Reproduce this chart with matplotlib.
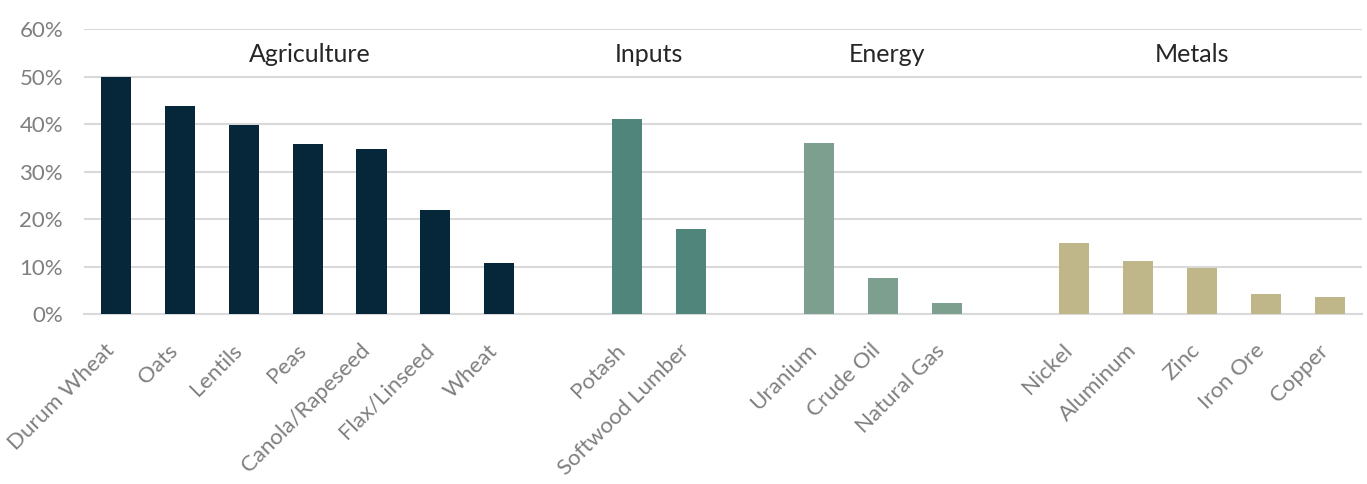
import matplotlib
matplotlib.use("Agg")
import matplotlib.pyplot as plt
from matplotlib.ticker import FuncFormatter
from matplotlib.transforms import offset_copy

# Data
categories = ["Durum Wheat", "Oats", "Lentils", "Peas", "Canola/Rapeseed", "Flax/Linseed", "Wheat",
              "Potash", "Softwood Lumber",
              "Uranium", "Crude Oil", "Natural Gas",
              "Nickel", "Aluminum", "Zinc", "Iron Ore", "Copper"]
values = [50.0, 43.9, 39.9, 35.9, 34.9, 21.9, 10.9,
          41.1, 18.0,
          36.0, 7.7, 2.4,
          15.0, 11.3, 9.8, 4.3, 3.7]
groups = ["Agriculture"] * 7 + ["Inputs"] * 2 + ["Energy"] * 3 + ["Metals"] * 5
group_names = ["Agriculture", "Inputs", "Energy", "Metals"]
group_colors = {"Agriculture": "#06263A", "Inputs": "#4F857B",
                "Energy": "#7C9F90", "Metals": "#BFB68A"}

# positions: one empty slot between groups
positions = []
pos = 0
prev = groups[0]
for g in groups:
    if g != prev:
        pos += 1
        prev = g
    positions.append(pos)
    pos += 1

label_pos = {"Agriculture": 3.03, "Inputs": 8.34, "Energy": 12.07, "Metals": 16.84}

plt.rcParams['font.family'] = ['Lato', 'DejaVu Sans']

fig = plt.figure(figsize=(13.67, 4.84), dpi=100)
ax = fig.add_axes([0.0614, 0.3506, 0.9349, 0.5889])

ax.bar(positions, values, width=0.47, color=[group_colors[g] for g in groups], zorder=3)

ax.set_xlim(-0.5, max(positions) + 0.5)
ax.set_ylim(0, 60)
ax.set_yticks(range(0, 61, 10))
ax.yaxis.set_major_formatter(FuncFormatter(lambda v, p: f"{int(v)}%"))
ax.grid(axis='y', color='#d9d9d9', linewidth=1.5, zorder=0)
ax.set_axisbelow(True)
for s in ['left', 'right', 'top']:
    ax.spines[s].set_visible(False)
ax.spines['bottom'].set_color('#d9d9d9')
ax.spines['bottom'].set_linewidth(1.5)

ax.tick_params(axis='y', length=0, pad=15, labelsize=16, labelcolor='#7f7f7f')
ax.set_xticks(positions)
ax.tick_params(axis='x', length=0, labelbottom=False)

tr = offset_copy(ax.get_xaxis_transform(), fig=fig, x=-12, y=-26, units='dots')
for p, c in zip(positions, categories):
    ax.text(p, 0, c, transform=tr, rotation=45, ha='right', va='top',
            rotation_mode='anchor', fontsize=16, color='#7f7f7f')

for g in group_names:
    ax.text(label_pos[g], 54.6, g, ha='center', va='center', fontsize=18,
            color='#262626')

fig.savefig("out.png", dpi=100)
